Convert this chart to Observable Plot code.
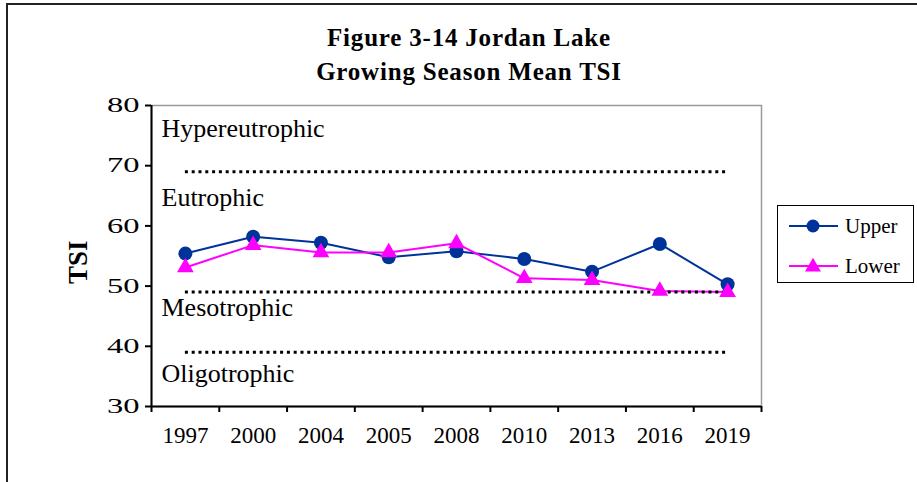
<!DOCTYPE html>
<html><head><meta charset="utf-8">
<script src="https://cdn.jsdelivr.net/npm/d3@7"></script>
<script src="https://cdn.jsdelivr.net/npm/@observablehq/plot@0.6"></script>
<style>
html,body{margin:0;padding:0;background:#fff;overflow:hidden;}
#wrap{position:relative;width:917px;height:482px;overflow:hidden;font-family:"Liberation Serif","Times New Roman",serif;color:#000;}
#border{position:absolute;left:6px;top:3px;width:1000px;height:1000px;border:2px solid #222;box-sizing:border-box;}
#title{position:absolute;left:169px;top:21px;width:600px;text-align:center;font-weight:bold;font-size:25px;line-height:34px;letter-spacing:0.8px;}
#chart{position:absolute;left:0;top:0;}
#legend{position:absolute;left:777px;top:205px;width:137px;height:78px;border:1.5px solid #000;box-sizing:border-box;background:#fff;font-size:21px;}
.lrow{position:absolute;left:0;height:30px;display:flex;align-items:center;}
.lrow svg{display:block;}
.lrow span{margin-left:7px;}
</style></head>
<body>
<div id="wrap">
  <div id="border"></div>
  <div id="chart"></div>
  <div id="title">Figure 3-14 Jordan Lake<br>Growing Season Mean TSI</div>
  <div id="legend"></div>
</div>
<script>
const years = ["1997","2000","2004","2005","2008","2010","2013","2016","2019"];
const upper = [55.4, 58.2, 57.2, 54.8, 55.8, 54.5, 52.4, 57.0, 50.3];
const lower = [53.1, 56.8, 55.6, 55.6, 57.1, 51.3, 51.0, 49.2, 49.0];
const thresholds = [69, 49, 39];
const zoneNames = ["Hypereutrophic", "Eutrophic", "Mesotrophic", "Oligotrophic"];
const zoneLabelY = [76.1, 64.7, 46.4, 35.4];
const yTicks = [30, 40, 50, 60, 70, 80];
const seriesNames = ["Upper", "Lower"];

const UPPER_COLOR = "#003399";
const LOWER_COLOR = "#FF00FF";

const idx = d3.range(years.length);

const chart = Plot.plot({
  width: 917, height: 482,
  marginTop: 105, marginBottom: 76, marginLeft: 151, marginRight: 156,
  style: {fontFamily: "'Liberation Serif', 'Times New Roman', serif", fontSize: "23px", color: "black", background: "transparent", overflow: "visible"},
  x: {type: "linear", domain: [-0.5, years.length - 0.5]},
  y: {domain: [30, 80]},
  marks: [
    Plot.frame({stroke: "#9a9a9a", strokeWidth: 1.5}),
    Plot.text(zoneNames, {frameAnchor: "left", y: (d, i) => zoneLabelY[i], text: d => d, dx: 10, textAnchor: "start", fontSize: 26}),
    Plot.line(idx, {x: i => i, y: i => upper[i], stroke: UPPER_COLOR, strokeWidth: 2}),
    Plot.dot(idx, {x: i => i, y: i => upper[i], r: 7, fill: UPPER_COLOR, stroke: "none"}),
    Plot.line(idx, {x: i => i, y: i => lower[i], stroke: LOWER_COLOR, strokeWidth: 2}),
    Plot.ruleY(thresholds, {y: d => d, x1: 0, x2: years.length - 1, stroke: "black", strokeWidth: 3, strokeDasharray: "3 3.8", strokeLinecap: "butt"}),
    Plot.dot(idx, {x: i => i, y: i => lower[i], symbol: "triangle", r: 6.2, fill: LOWER_COLOR, stroke: "none"}),
    Plot.ruleX([-0.5], {stroke: "black", strokeWidth: 2}),
    Plot.ruleY([30], {stroke: "black", strokeWidth: 2}),
    Plot.axisY({ticks: yTicks, tickSize: 6, tickPadding: 6, strokeWidth: 2, fontSize: 21, label: null}),
    Plot.axisX({ticks: d3.range(-0.5, years.length), tickSize: 6, strokeWidth: 2, tickFormat: () => "", label: null}),
    Plot.axisX({ticks: idx, tickSize: 0, tickPadding: 20, tickFormat: i => years[i], label: null}),
    Plot.text(["TSI"], {frameAnchor: "left", text: d => d, rotate: -90, dx: -73, dy: 28, fontWeight: "bold", fontSize: 27})
  ]
});
// y tick labels in the reference are rendered horizontally wider
d3.select(chart).selectAll('g[aria-label="y-axis tick label"] text')
  .attr("transform", function() { return (this.getAttribute("transform") || "") + " scale(1.55,1)"; });
document.getElementById("chart").append(chart);

// legend
const legend = document.getElementById("legend");
const colors = [UPPER_COLOR, LOWER_COLOR];
seriesNames.forEach((name, k) => {
  const row = document.createElement("div");
  row.className = "lrow";
  row.style.top = (k === 0 ? 5 : 45) + "px";
  row.style.left = "10px";
  const svg = d3.create("svg").attr("width", 50).attr("height", 30);
  svg.append("line").attr("x1", 1).attr("x2", 50).attr("y1", 15).attr("y2", 15)
    .attr("stroke", colors[k]).attr("stroke-width", 2);
  if (k === 0) {
    svg.append("circle").attr("cx", 25).attr("cy", 15).attr("r", 6.5).attr("fill", colors[k]);
  } else {
    svg.append("path").attr("transform", "translate(25,16)")
      .attr("d", d3.symbol(d3.symbolTriangle, 110)()).attr("fill", colors[k]);
  }
  row.append(svg.node());
  const span = document.createElement("span");
  span.textContent = name;
  row.append(span);
  legend.append(row);
});
</script>
</body></html>
